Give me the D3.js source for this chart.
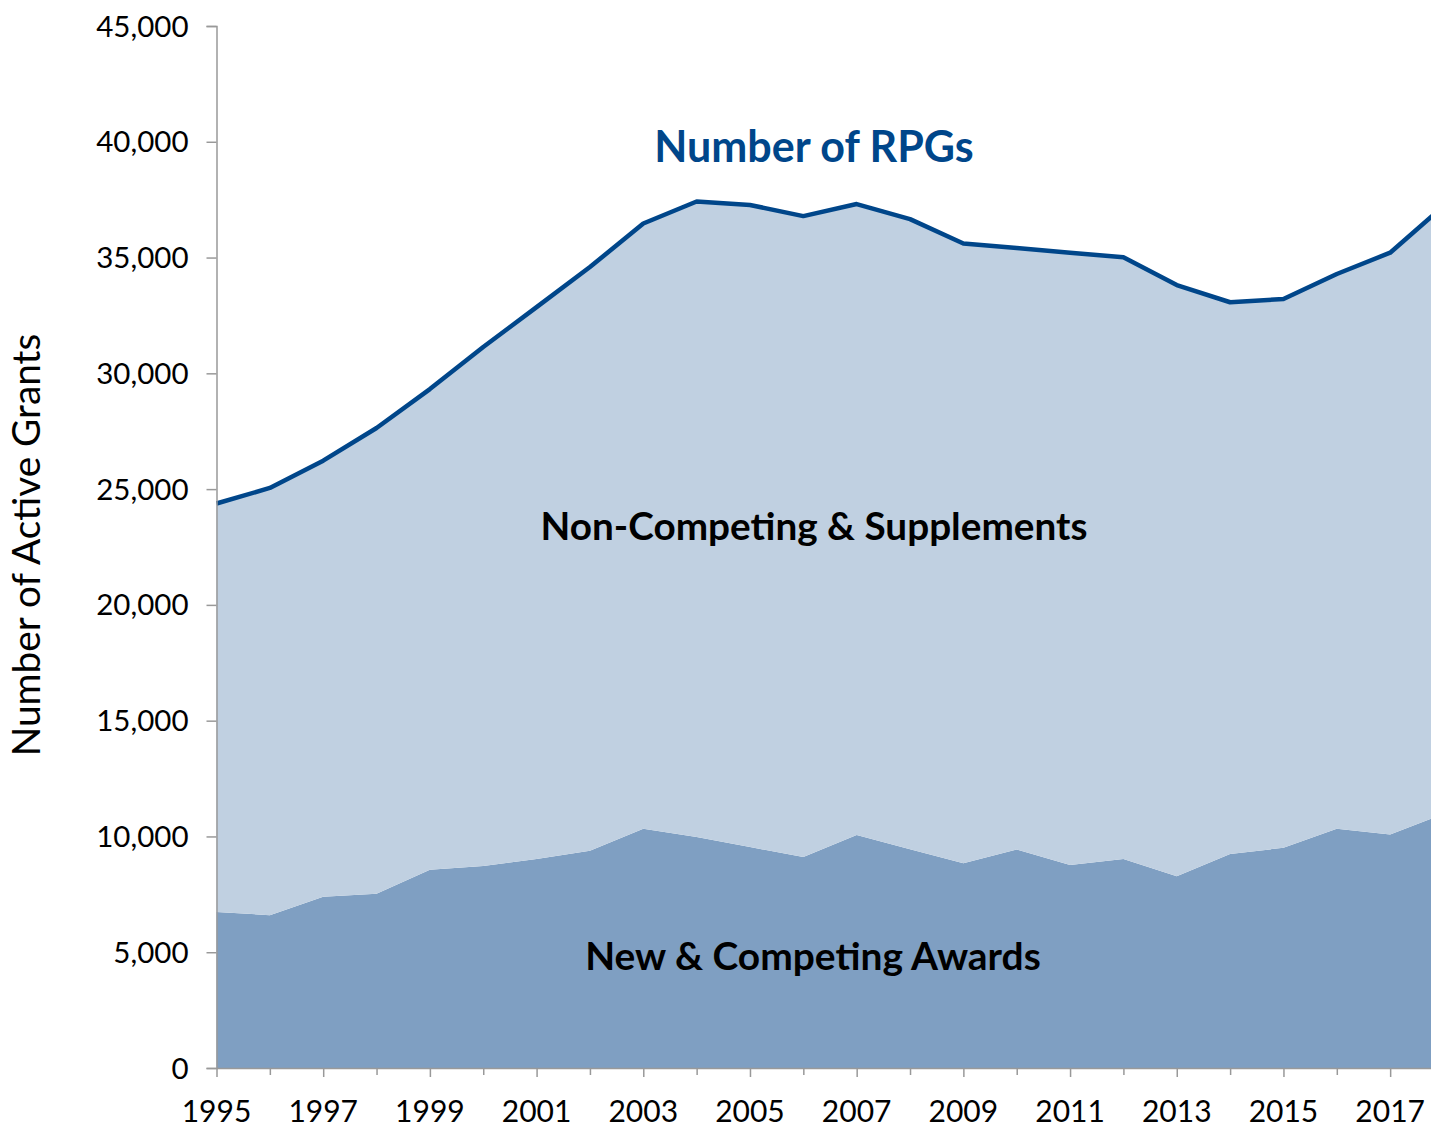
<!DOCTYPE html>
<html>
<head>
<meta charset="utf-8">
<script src="https://cdn.jsdelivr.net/npm/d3@7"></script>
<style>
  html, body { margin: 0; padding: 0; background: #fff; overflow: hidden; }
  svg { display: block; font-family: Lato, "Open Sans", sans-serif; }
</style>
</head>
<body>
<svg id="chart" width="1431" height="1129"></svg>
<script>
const years = [1995,1996,1997,1998,1999,2000,2001,2002,2003,2004,2005,2006,2007,2008,2009,2010,2011,2012,2013,2014,2015,2016,2017,2018];
const newCompeting = [6740,6600,7400,7520,8560,8720,9030,9380,10330,9980,9540,9110,10060,9450,8840,9440,8770,9030,8280,9240,9510,10330,10080,10980];
const totalRPGs = [24380,25050,26230,27640,29320,31140,32860,34590,36470,37420,37270,36790,37310,36660,35610,35410,35210,35010,33810,33070,33210,34290,35210,37220];
const nonCompeting = totalRPGs.map((t, i) => t - newCompeting[i]);
const yTicks = [0,5000,10000,15000,20000,25000,30000,35000,40000,45000];
const xLabelYears = [1995,1997,1999,2001,2003,2005,2007,2009,2011,2013,2015,2017];
const seriesKeys = ["newCompeting", "nonCompeting"];

const svg = d3.select("#chart");
const x = d3.scaleLinear().domain([1995, 2018]).range([216.5, 1443.5]);
const y = d3.scaleLinear().domain([0, 45000]).range([1068, 26]);

const table = years.map((yr, i) => ({ year: yr, newCompeting: newCompeting[i], nonCompeting: nonCompeting[i] }));
const stacked = d3.stack().keys(seriesKeys)(table);
const colors = { newCompeting: "#7f9fc2", nonCompeting: "#c0d0e1" };

const area = d3.area()
  .x(d => x(d.data.year))
  .y0(d => y(d[0]))
  .y1(d => y(d[1]));

svg.append("g").selectAll("path")
  .data(stacked)
  .join("path")
  .attr("d", area)
  .attr("fill", d => colors[d.key]);

// total line
const line = d3.line().x((d, i) => x(years[i])).y(d => y(d));
svg.append("path")
  .datum(totalRPGs)
  .attr("d", line)
  .attr("fill", "none")
  .attr("stroke", "#00468a")
  .attr("stroke-width", 4.5)
  .attr("stroke-linejoin", "round");

// y axis
const yAxis = d3.axisLeft(y).tickValues(yTicks).tickSize(10).tickPadding(18)
  .tickFormat(d3.format(","));
const gy = svg.append("g").attr("transform", "translate(216.5,0)").call(yAxis);
gy.select(".domain").attr("stroke", "#999").attr("stroke-width", 1.5);
gy.selectAll(".tick line").attr("stroke", "#999").attr("stroke-width", 1.5);
gy.selectAll(".tick text").attr("font-size", 29.5).attr("fill", "#000").attr("font-family", "Lato").attr("dy", "0.34em");

// x axis: ticks every year, labels every two years
const xAxis = d3.axisBottom(x).tickValues(years).tickSize(0).tickFormat("");
const gx = svg.append("g").attr("transform", "translate(0,1068)").call(xAxis);
gx.select(".domain").attr("stroke", "#999").attr("stroke-width", 1.5);
gx.selectAll(".tick").append("line")
  .attr("y2", d => xLabelYears.includes(d) ? 9 : 7)
  .attr("stroke", "#999").attr("stroke-width", 1.5);
svg.append("g").selectAll("text")
  .data(xLabelYears)
  .join("text")
  .attr("x", d => x(d))
  .attr("y", 1122)
  .attr("text-anchor", "middle")
  .attr("font-size", 30)
  .attr("font-family", "Lato")
  .attr("fill", "#000")
  .text(d => d);

// y title
svg.append("text")
  .attr("transform", "translate(40,545) rotate(-90)")
  .attr("text-anchor", "middle")
  .attr("font-size", 38.8)
  .attr("font-family", "Lato")
  .attr("fill", "#000")
  .text("Number of Active Grants");

// annotations
svg.append("text").attr("x", 814).attr("y", 162).attr("text-anchor", "middle")
  .attr("font-size", 43).attr("font-weight", "bold").attr("fill", "#00468a")
  .text("Number of RPGs");
svg.append("text").attr("x", 814).attr("y", 540).attr("text-anchor", "middle")
  .attr("font-size", 38.7).attr("font-weight", "bold").attr("fill", "#000")
  .text("Non-Competing & Supplements");
svg.append("text").attr("x", 813).attr("y", 970).attr("text-anchor", "middle")
  .attr("font-size", 38.9).attr("font-weight", "bold").attr("fill", "#000")
  .text("New & Competing Awards");
</script>
</body>
</html>
